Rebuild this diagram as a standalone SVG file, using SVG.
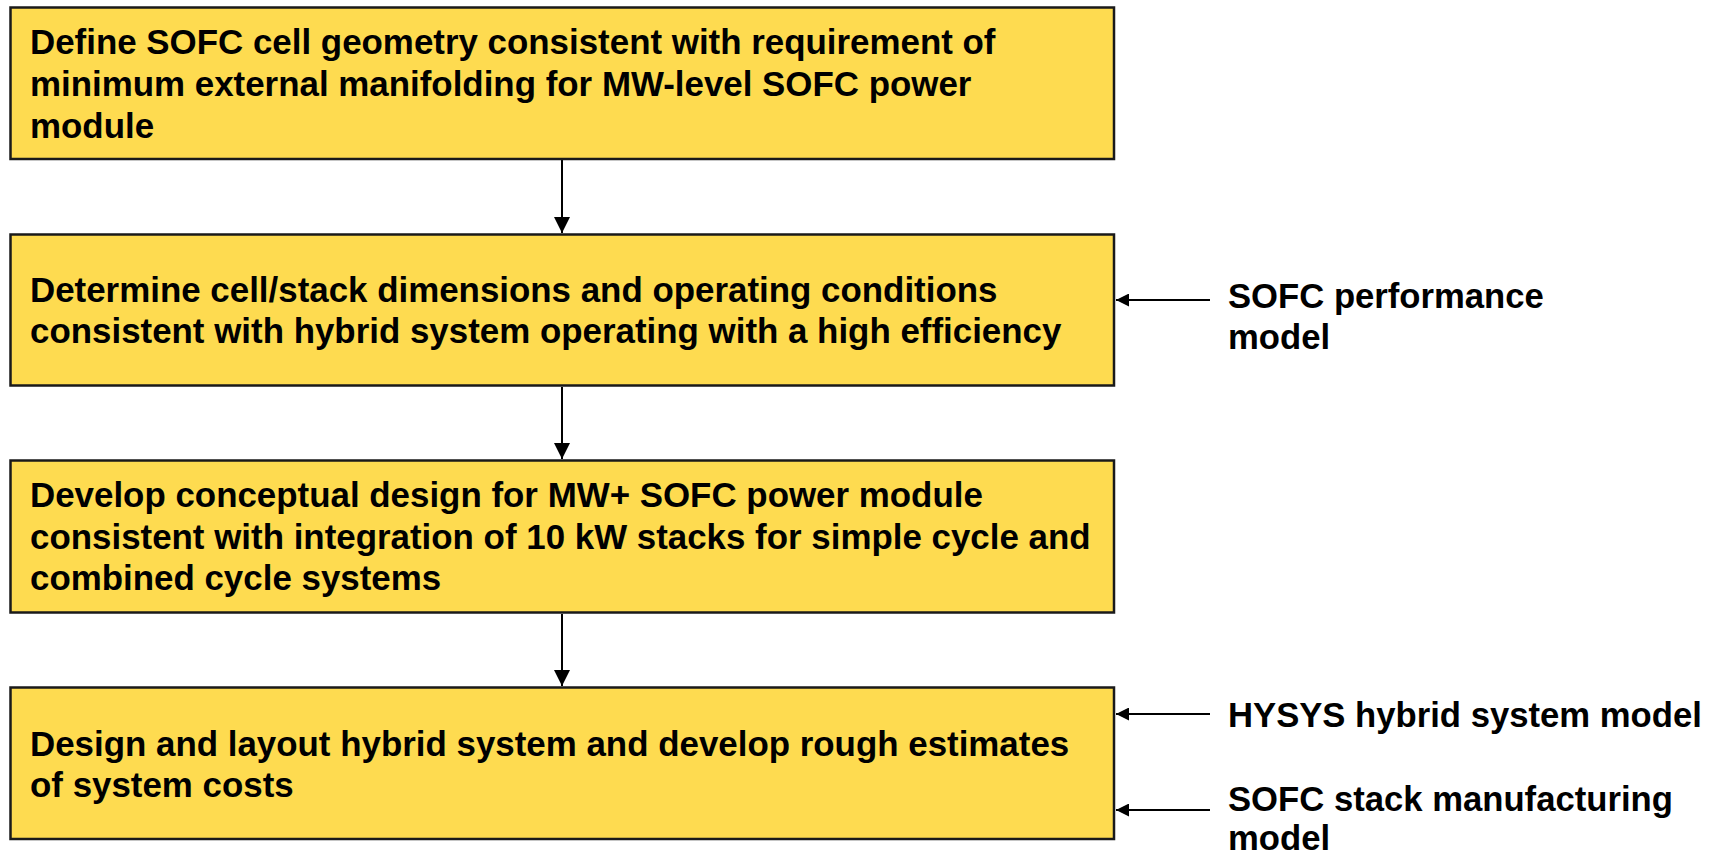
<svg xmlns="http://www.w3.org/2000/svg" width="1719" height="854" viewBox="0 0 1719 854">
<defs>
<style>
.box{fill:#FEDB50;stroke:#1a1a1a;stroke-width:2.5}
.t{font-family:"Liberation Sans",Arial,sans-serif;font-weight:bold;font-size:34.9px;fill:#000}
.r{font-family:"Liberation Sans",Arial,sans-serif;font-weight:bold;font-size:34.67px;fill:#000}
.c{stroke:#000;stroke-width:2;fill:none}
</style>
<marker id="ad" viewBox="0 0 16 16" refX="16" refY="8" markerWidth="16" markerHeight="16" markerUnits="userSpaceOnUse" orient="auto">
<path d="M0,0 L16,8 L0,16 Z" fill="#000"/>
</marker>
<marker id="ar" viewBox="0 0 13 13" refX="13" refY="6.5" markerWidth="13" markerHeight="13" markerUnits="userSpaceOnUse" orient="auto">
<path d="M0,0 L13,6.5 L0,13 Z" fill="#000"/>
</marker>
</defs>
<rect width="1719" height="854" fill="#fff"/>
<g id="connectors">
<line class="c" x1="562" y1="160" x2="562" y2="233" marker-end="url(#ad)"/>
<line class="c" x1="562" y1="387" x2="562" y2="459" marker-end="url(#ad)"/>
<line class="c" x1="562" y1="614" x2="562" y2="686" marker-end="url(#ad)"/>
<line class="c" x1="1210" y1="300" x2="1116" y2="300" marker-end="url(#ar)"/>
<line class="c" x1="1210" y1="714" x2="1116" y2="714" marker-end="url(#ar)"/>
<line class="c" x1="1210" y1="810" x2="1116" y2="810" marker-end="url(#ar)"/>
</g>
<g id="node1">
<rect class="box" x="10.5" y="7.5" width="1103.5" height="151.5"/>
<text class="t" x="30" y="53.5">Define SOFC cell geometry consistent with requirement of</text>
<text class="t" x="30" y="95.5">minimum external manifolding for MW-level SOFC power</text>
<text class="t" x="30" y="137.5">module</text>
</g>
<g id="node2">
<rect class="box" x="10.5" y="234.5" width="1103.5" height="151"/>
<text class="t" x="30" y="301.5">Determine cell/stack dimensions and operating conditions</text>
<text class="t" x="30" y="343">consistent with hybrid system operating with a high efficiency</text>
</g>
<g id="node3">
<rect class="box" x="10.5" y="460.5" width="1103.5" height="152"/>
<text class="t" x="30" y="507">Develop conceptual design for MW+ SOFC power module</text>
<text class="t" x="30" y="548.5">consistent with integration of 10 kW stacks for simple cycle and</text>
<text class="t" x="30" y="590">combined cycle systems</text>
</g>
<g id="node4">
<rect class="box" x="10.5" y="687.5" width="1103.5" height="151.5"/>
<text class="t" x="30" y="755.5">Design and layout hybrid system and develop rough estimates</text>
<text class="t" x="30" y="797">of system costs</text>
</g>
<g id="label-performance">
<text class="r" x="1228" y="307.5">SOFC performance</text>
<text class="r" x="1228" y="349">model</text>
</g>
<g id="label-hysys">
<text class="r" x="1228" y="727">HYSYS hybrid system model</text>
</g>
<g id="label-manufacturing">
<text class="r" x="1228" y="810.5">SOFC stack manufacturing</text>
<text class="r" x="1228" y="850">model</text>
</g>
</svg>
